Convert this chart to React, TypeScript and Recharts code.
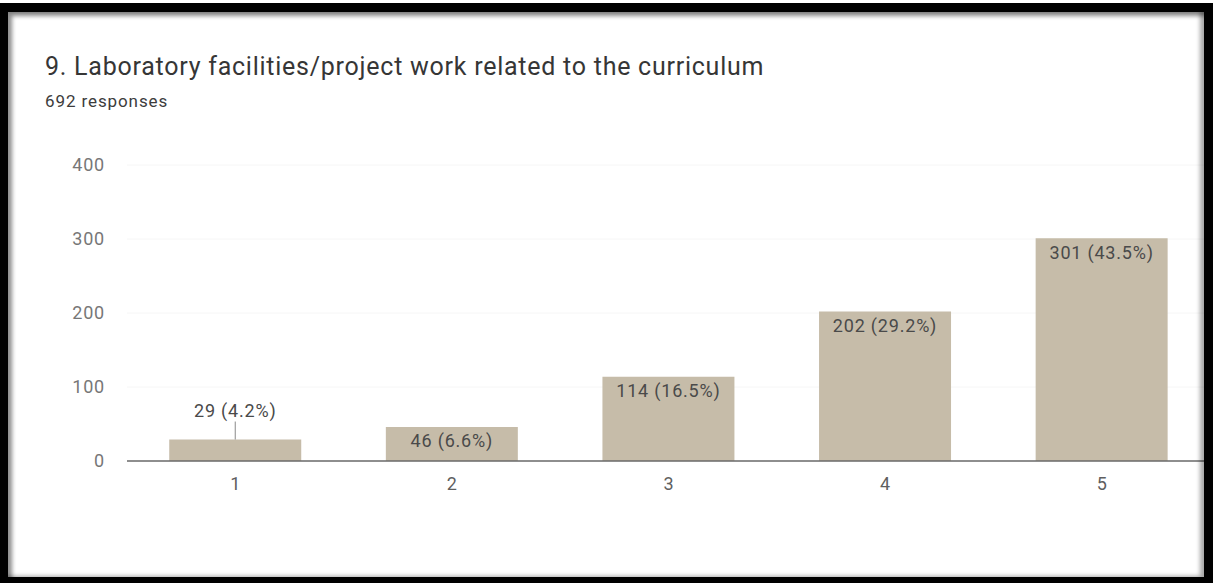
import React from 'react';
import { BarChart, Bar, XAxis, YAxis, CartesianGrid, LabelList } from 'recharts';

const categories = ['1', '2', '3', '4', '5'];
const counts = [29, 46, 114, 202, 301];
const percents = ['4.2%', '6.6%', '16.5%', '29.2%', '43.5%'];
const yTicks = [0, 100, 200, 300, 400];
const title = '9. Laboratory facilities/project work related to the curriculum';
const subtitle = '692 responses';

const data = categories.map((c, i) => ({
  name: c,
  count: counts[i],
  label: `${counts[i]} (${percents[i]})`,
}));

const FONT = 'Roboto, "Liberation Sans", Arial, sans-serif';

const BarLabel = (props: any) => {
  const { x, y, width, height, value } = props;
  const cx = Number(x) + Number(width) / 2;
  const top = Number(y);
  const h = Number(height);
  const style = { fontFamily: FONT, fontSize: 18, letterSpacing: 0.8 } as any;
  if (h < 32) {
    return (
      <g>
        <line x1={cx} x2={cx} y1={top} y2={top - 18} stroke="#8a8a8a" strokeWidth={1} />
        <text x={cx} y={top - 29} textAnchor="middle" dominantBaseline="central" fill="#4a4a4a" style={style}>
          {value}
        </text>
      </g>
    );
  }
  return (
    <text x={cx} y={top + 14} textAnchor="middle" dominantBaseline="central" fill="#4a4a4a" style={style}>
      {value}
    </text>
  );
};

export default function App() {
  return (
    <div style={{ position: 'absolute', left: 0, top: 0, width: 1213, height: 583, background: '#fff', overflow: 'hidden' }}>
      <svg width={1213} height={140} style={{ position: 'absolute', left: 0, top: 0 }}>
        <text x={45} y={75} fill="#363636" style={{ fontFamily: FONT, fontSize: 25, letterSpacing: 0.75 }}>
          {title}
        </text>
        <text x={45} y={107} fill="#3c3c3c" style={{ fontFamily: FONT, fontSize: 17, letterSpacing: 0.9 }}>
          {subtitle}
        </text>
      </svg>
      <div style={{ position: 'absolute', left: 0, top: 0 }}>
        <BarChart
          width={1213}
          height={583}
          data={data}
          margin={{ top: 165, right: 3, bottom: 0, left: 0 }}
          barCategoryGap="19.5%"
        >
          <CartesianGrid vertical={false} stroke="#f6f6f6" />
          <XAxis
            dataKey="name"
            height={122}
            tickSize={0}
            tickMargin={16}
            axisLine={{ stroke: '#6a6a6a', strokeWidth: 1.5 }}
            tick={{ fill: '#5f5f5f', fontSize: 18, fontFamily: FONT }}
          />
          <YAxis
            width={127}
            domain={[0, 400]}
            ticks={yTicks}
            tickSize={0}
            tickMargin={22}
            axisLine={false}
            tick={{ fill: '#777777', fontSize: 18, fontFamily: FONT, letterSpacing: 0.8 } as any}
          />
          <Bar dataKey="count" fill="#c6bca9" isAnimationActive={false}>
            <LabelList dataKey="label" content={BarLabel} />
          </Bar>
        </BarChart>
      </div>
      <div
        style={{
          position: 'absolute',
          left: 0,
          top: 3,
          width: 1213,
          height: 580,
          boxSizing: 'border-box',
          borderStyle: 'solid',
          borderColor: '#000',
          borderLeftWidth: 8,
          borderTopWidth: 9,
          borderRightWidth: 9,
          borderBottomWidth: 6,
          boxShadow: 'inset 4px 4px 4px rgba(0,0,0,0.45), inset -4px -1px 4px rgba(0,0,0,0.35)',
          pointerEvents: 'none',
        }}
      />
    </div>
  );
}
